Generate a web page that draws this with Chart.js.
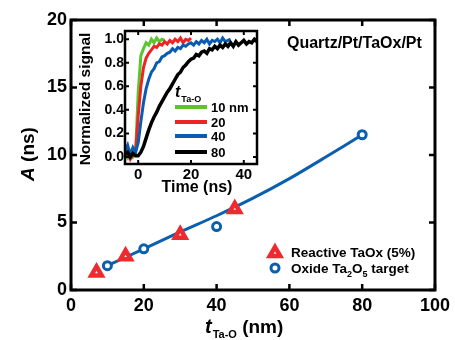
<!DOCTYPE html>
<html>
<head>
<meta charset="utf-8">
<script src="https://cdn.jsdelivr.net/npm/chart.js@4"></script>
<style>
  body { margin: 0; background: #fff; }
  #wrap { position: relative; width: 455px; height: 340px; }
  #wrap canvas { position: absolute; left: 0; top: 0; }
</style>
</head>
<body>
<div id="wrap">
  <canvas id="mainChart" width="455" height="340"></canvas>
  <canvas id="insetChart" width="455" height="340"></canvas>
</div>
<script>
// main plot: A vs Ta-O thickness
const reactiveT = [7, 15, 30, 45];
const reactiveA = [1.3, 2.5, 4.1, 6.0];
const oxideT = [10, 20, 40, 80];
const oxideA = [1.8, 3.05, 4.7, 11.5];
const fitT = [10, 20, 30, 40, 50, 60, 70, 80];
const fitA = [1.8, 3.05, 4.3, 5.5, 6.8, 8.25, 9.85, 11.5];
const xTicks = [0, 20, 40, 60, 80, 100];
const yTicks = [0, 5, 10, 15, 20];

// inset: normalized signal vs time, 1 ns steps from -5 ns
const time = [-5, -4, -3, -2, -1, 0, 1, 2, 3, 4, 5, 6, 7, 8, 9, 10, 11, 12, 13, 14,
  15, 16, 17, 18, 19, 20, 21, 22, 23, 24, 25, 26, 27, 28, 29, 30, 31, 32, 33, 34,
  35, 36, 37, 38, 39, 40, 41, 42, 43, 44, 45];
const sig10 = [0.02, -0.01, 0.04, 0.00, 0.03, 0.55, 0.86, 0.92, 0.97, 0.95,
  1.00, 0.97, 1.01, 0.98, 1.00, 0.99];
const sig20 = [0.01, 0.03, -0.02, 0.02, 0.04, 0.35, 0.60, 0.76, 0.84, 0.88,
  0.91, 0.94, 0.93, 0.96, 0.95, 0.98, 0.96, 0.99, 0.97, 1.00,
  0.98, 1.01, 0.97, 1.00, 0.99, 1.01];
const sig40 = [0.05, 0.10, 0.02, 0.08, 0.04, 0.12, 0.30, 0.46, 0.58, 0.66,
  0.72, 0.75, 0.80, 0.81, 0.85, 0.86, 0.88, 0.89, 0.92, 0.90,
  0.93, 0.92, 0.95, 0.94, 0.96, 0.97, 0.95, 0.98, 0.96, 0.99,
  0.97, 1.00, 0.96, 0.99, 0.98, 1.00, 0.97, 1.01, 0.98, 0.99, 1.00];
const sig80 = [0.02, 0.04, 0.00, 0.03, 0.01, 0.01, 0.04, 0.09, 0.16, 0.23,
  0.29, 0.34, 0.38, 0.43, 0.47, 0.51, 0.55, 0.58, 0.62, 0.66,
  0.70, 0.72, 0.76, 0.78, 0.81, 0.83, 0.84, 0.87, 0.86, 0.89,
  0.90, 0.88, 0.92, 0.91, 0.94, 0.92, 0.95, 0.93, 0.96, 0.94,
  0.97, 0.94, 0.98, 0.95, 0.97, 0.99, 0.96, 0.98, 0.97, 1.00, 0.98];
const insetXTicks = [0, 20, 40];
const insetYTicks = [0, 0.2, 0.4, 0.6, 0.8, 1.0];
const insetLabels = ['10 nm', '20', '40', '80'];
const insetColors = ['#5cc42e', '#ee2424', '#0b5cb0', '#000000'];

const RED = '#ee2a2e';
const BLUE = '#0b5fad';
const FONT = '"Liberation Sans", Arial, sans-serif';

function pts(xs, ys) { return ys.map((y, i) => ({ x: xs[i], y: y })); }

function drawParts(ctx, x, y, parts) {
  parts.forEach(p => {
    ctx.font = p.font;
    ctx.fillText(p.text, x, y + (p.dy || 0));
    x += ctx.measureText(p.text).width + (p.gap || 0);
  });
}
function partsWidth(ctx, parts) {
  let w = 0;
  parts.forEach(p => { ctx.font = p.font; w += ctx.measureText(p.text).width + (p.gap || 0); });
  return w;
}

// box frame with inward ticks on all four sides
const framePlugin = {
  id: 'frame',
  beforeDraw(chart, args, opts) {
    if (!opts.fill) return;
    const a = chart.chartArea, ctx = chart.ctx;
    ctx.save();
    ctx.fillStyle = '#fff';
    ctx.fillRect(a.left, a.top, a.right - a.left, a.bottom - a.top);
    ctx.restore();
  },
  afterDraw(chart, args, opts) {
    const a = chart.chartArea, ctx = chart.ctx;
    const xs = chart.scales.x, ys = chart.scales.y;
    ctx.save();
    ctx.strokeStyle = '#000';
    ctx.lineWidth = opts.tickW;
    ctx.beginPath();
    xs.ticks.forEach(t => {
      const p = xs.getPixelForValue(t.value);
      ctx.moveTo(p, a.bottom); ctx.lineTo(p, a.bottom - opts.tickLen);
      ctx.moveTo(p, a.top); ctx.lineTo(p, a.top + opts.tickLen);
    });
    ys.ticks.forEach(t => {
      const p = ys.getPixelForValue(t.value);
      ctx.moveTo(a.left, p); ctx.lineTo(a.left + opts.tickLen, p);
      ctx.moveTo(a.right, p); ctx.lineTo(a.right - opts.tickLen, p);
    });
    ctx.stroke();
    ctx.lineWidth = opts.lw;
    ctx.strokeRect(a.left, a.top, a.right - a.left, a.bottom - a.top);
    ctx.restore();
  }
};

const mainText = {
  id: 'mainText',
  afterDraw(chart) {
    const ctx = chart.ctx;
    ctx.save();
    ctx.fillStyle = '#000';
    ctx.textAlign = 'left';
    ctx.textBaseline = 'alphabetic';
    ctx.font = 'bold 16px ' + FONT;
    ctx.fillText('Quartz/Pt/TaOx/Pt', 287, 48);

    // legend markers
    ctx.fillStyle = '#fff';
    ctx.strokeStyle = RED;
    ctx.lineWidth = 4.5;
    ctx.lineJoin = 'miter';
    const r = 6, tx = 275, ty = 253;
    ctx.beginPath();
    ctx.moveTo(tx, ty - r);
    ctx.lineTo(tx + r * 0.866, ty + r * 0.5);
    ctx.lineTo(tx - r * 0.866, ty + r * 0.5);
    ctx.closePath();
    ctx.fill(); ctx.stroke();
    ctx.strokeStyle = BLUE;
    ctx.lineWidth = 3;
    ctx.beginPath();
    ctx.arc(275, 268, 4, 0, Math.PI * 2);
    ctx.fill(); ctx.stroke();

    ctx.fillStyle = '#000';
    ctx.font = 'bold 13.5px ' + FONT;
    ctx.fillText('Reactive TaOx (5%)', 291, 257);
    drawParts(ctx, 291, 273, [
      { text: 'Oxide Ta', font: 'bold 13.5px ' + FONT },
      { text: '2', font: 'bold 9px ' + FONT, dy: 4 },
      { text: 'O', font: 'bold 13.5px ' + FONT },
      { text: '5', font: 'bold 9px ' + FONT, dy: 4 },
      { text: ' target', font: 'bold 13.5px ' + FONT }
    ]);

    // x title
    drawParts(ctx, 205, 333, [
      { text: 't', font: 'italic bold 20px ' + FONT, gap: 1 },
      { text: 'Ta-O', font: 'bold 11px ' + FONT, dy: 5 },
      { text: ' (nm)', font: 'bold 19px ' + FONT }
    ]);

    // y title
    const yParts = [
      { text: 'A', font: 'italic bold 19px ' + FONT },
      { text: ' (ns)', font: 'bold 19px ' + FONT }
    ];
    ctx.translate(34, 154);
    ctx.rotate(-Math.PI / 2);
    drawParts(ctx, -partsWidth(ctx, yParts) / 2, 0, yParts);
    ctx.restore();
  }
};

const insetText = {
  id: 'insetText',
  afterDraw(chart) {
    const ctx = chart.ctx;
    ctx.save();
    ctx.fillStyle = '#000';
    ctx.textBaseline = 'alphabetic';
    ctx.textAlign = 'center';
    ctx.font = 'bold 16px ' + FONT;
    ctx.fillText('Time (ns)', 197, 192);

    ctx.save();
    ctx.translate(90, 99);
    ctx.rotate(-Math.PI / 2);
    ctx.font = 'bold 15.5px ' + FONT;
    ctx.fillText('Normalized signal', 0, 0);
    ctx.restore();

    ctx.textAlign = 'left';
    drawParts(ctx, 175, 97, [
      { text: 't', font: 'italic bold 16px ' + FONT, gap: 1 },
      { text: 'Ta-O', font: 'bold 9px ' + FONT, dy: 5 }
    ]);
    const rows = [107, 122, 136, 152];
    ctx.lineWidth = 4;
    rows.forEach((y, i) => {
      ctx.strokeStyle = insetColors[i];
      ctx.beginPath();
      ctx.moveTo(175, y); ctx.lineTo(207, y);
      ctx.stroke();
      ctx.font = 'bold 13px ' + FONT;
      ctx.fillText(insetLabels[i], 211, y + 5);
    });
    ctx.restore();
  }
};

function fixedTicks(list) {
  return scale => { scale.ticks = list.map(v => ({ value: v })); };
}

new Chart(document.getElementById('mainChart'), {
  type: 'scatter',
  data: {
    datasets: [
      {
        label: 'Reactive TaOx (5%)',
        data: pts(reactiveT, reactiveA),
        pointStyle: 'triangle',
        pointRadius: 6,
        pointBorderWidth: 4.5,
        pointBackgroundColor: '#fff',
        pointBorderColor: RED
      },
      {
        label: 'Oxide Ta2O5 target',
        data: pts(oxideT, oxideA),
        pointStyle: 'circle',
        pointRadius: 4,
        pointBorderWidth: 3,
        pointBackgroundColor: '#fff',
        pointBorderColor: BLUE
      },
      {
        label: 'fit',
        data: pts(fitT, fitA),
        showLine: true,
        pointRadius: 0,
        borderColor: BLUE,
        borderWidth: 3,
        tension: 0.3
      }
    ]
  },
  options: {
    responsive: false,
    animation: false,
    events: [],
    layout: { padding: { left: 0, top: 20, right: 19, bottom: 0 } },
    plugins: { legend: { display: false }, tooltip: { enabled: false }, frame: { lw: 3, tickLen: 6, tickW: 2.5 } },
    scales: {
      x: {
        min: 0, max: 100,
        afterBuildTicks: fixedTicks(xTicks),
        afterFit: s => { s.height = 50; },
        grid: { display: false, drawTicks: false },
        border: { display: false },
        ticks: { color: '#000', padding: 5, font: { family: FONT, size: 18, weight: 'bold' } }
      },
      y: {
        min: 0, max: 20,
        afterBuildTicks: fixedTicks(yTicks),
        afterFit: s => { s.width = 71; },
        grid: { display: false, drawTicks: false },
        border: { display: false },
        ticks: { color: '#000', padding: 4, font: { family: FONT, size: 18, weight: 'bold' } }
      }
    }
  },
  plugins: [framePlugin, mainText]
});

const insetSignals = [sig10, sig20, sig40, sig80];
const insetSets = insetSignals.map((s, i) => ({
  label: insetLabels[i],
  data: pts(time, s),
  showLine: true,
  pointRadius: 0,
  borderColor: insetColors[i],
  borderWidth: i === 3 ? 3.5 : 3,
  order: 4 - i
}));

new Chart(document.getElementById('insetChart'), {
  type: 'scatter',
  data: { datasets: insetSets },
  options: {
    responsive: false,
    animation: false,
    events: [],
    layout: { padding: { left: 80, top: 31, right: 198, bottom: 146 } },
    plugins: { legend: { display: false }, tooltip: { enabled: false }, frame: { lw: 2.5, tickLen: 4, tickW: 2, fill: true } },
    scales: {
      x: {
        min: -5, max: 45,
        afterBuildTicks: fixedTicks(insetXTicks),
        afterFit: s => { s.height = 30; },
        grid: { display: false, drawTicks: false },
        border: { display: false },
        ticks: { color: '#000', padding: 2, font: { family: FONT, size: 15, weight: 'bold' } }
      },
      y: {
        min: -0.06, max: 1.07,
        afterBuildTicks: fixedTicks(insetYTicks),
        afterFit: s => { s.width = 45; },
        grid: { display: false, drawTicks: false },
        border: { display: false },
        ticks: {
          color: '#000', padding: 1,
          font: { family: FONT, size: 14, weight: 'bold' },
          callback: v => v.toFixed(1)
        }
      }
    }
  },
  plugins: [framePlugin, insetText]
});
</script>
</body>
</html>
